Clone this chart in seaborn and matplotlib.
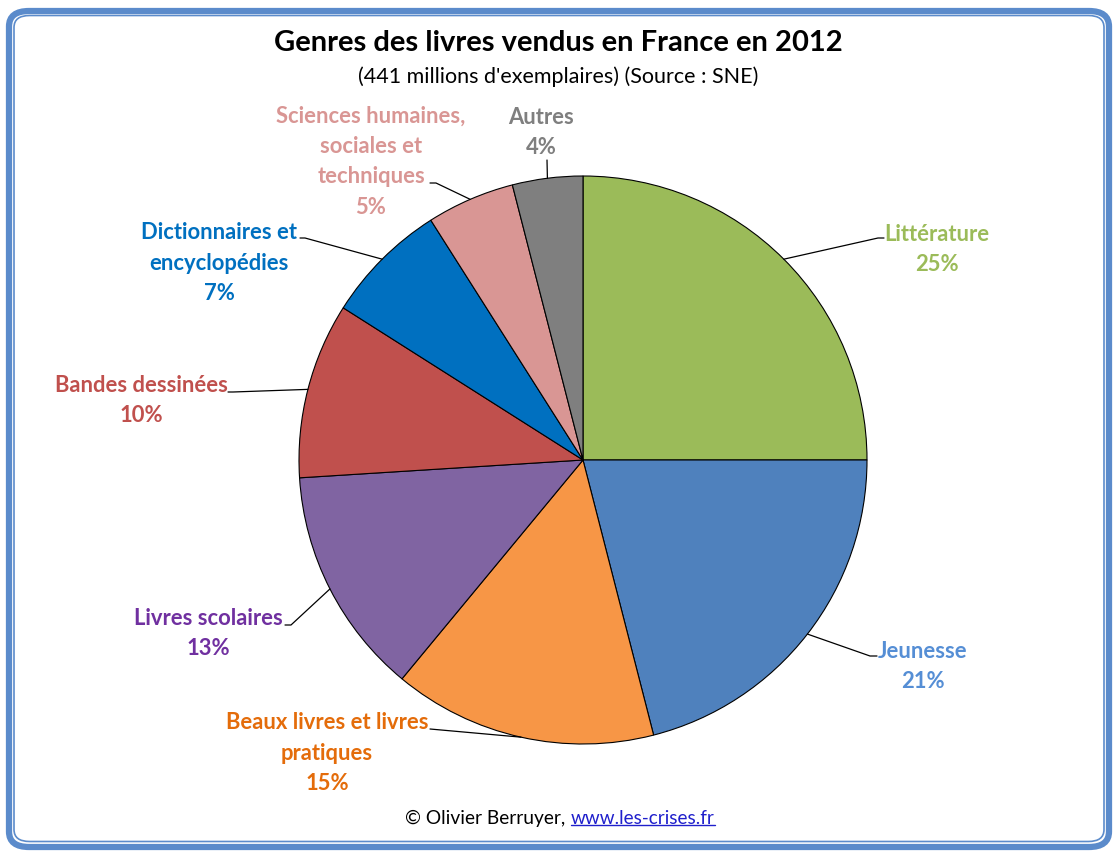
import numpy as np
import matplotlib
matplotlib.use("Agg")
import matplotlib.pyplot as plt
from matplotlib.patches import FancyBboxPatch
import seaborn as sns

# ---------------- data ----------------
categories = ["Littérature", "Jeunesse", "Beaux livres et livres\npratiques",
              "Livres scolaires", "Bandes dessinées", "Dictionnaires et\nencyclopédies",
              "Sciences humaines,\nsociales et\ntechniques", "Autres"]
values = [25, 21, 15, 13, 10, 7, 5, 4]
slice_colors = ["#9BBB59", "#4F81BD", "#F79646", "#8064A2",
                "#C0504D", "#0070C0", "#D99694", "#7F7F7F"]
label_colors = ["#9BBB59", "#558ED5", "#E46C0A", "#7030A0",
                "#C0504D", "#0070C0", "#D99694", "#7F7F7F"]
title = "Genres des livres vendus en France en 2012"
subtitle = "(441 millions d'exemplaires) (Source : SNE)"
credit = "© Olivier Berruyer,"
link = "www.les-crises.fr"

sns.set_theme(style="white")
plt.rcParams["font.family"] = ["Lato", "DejaVu Sans"]

W, H = 1118, 855
fig = plt.figure(figsize=(W / 100, H / 100), dpi=100)
fig.patch.set_facecolor("white")

# pie geometry (pixels)
CX, CY, R = 583, 460, 284
ax = fig.add_axes([(CX - R) / W, (H - CY - R) / H, 2 * R / W, 2 * R / H])
ax.axis("off")

wedges, _ = ax.pie(values, colors=slice_colors, startangle=90, counterclock=False,
                   radius=1, wedgeprops=dict(edgecolor="black", linewidth=0.8))
ax.set_xlim(-1, 1)
ax.set_ylim(-1, 1)
ax.set_aspect("equal")

def d(px, py):
    return (px - CX) / R, (CY - py) / R

# label block centres and leader elbow (pixels)
label_pos = [(937, 249.5), (923, 666.5), (327, 753), (208, 633.5),
             (141, 400.5), (219, 263), (371, 161.5), (541, 132.5)]
elbows = [((884, 238), (878, 238)), ((877, 656), (870, 656)),
          ((430, 729), (430, 729)), ((285, 625), (291, 625)),
          ((228, 392), (233, 392)), ((300, 238), (305, 238)),
          ((430, 183), (436, 183)), ((547, 160), (547, 160))]

for i, w in enumerate(wedges):
    mid = np.deg2rad((w.theta1 + w.theta2) / 2)
    ex, ey = np.cos(mid), np.sin(mid)
    (ax0, ay0), (ax1, ay1) = elbows[i]
    p0 = d(ax0, ay0)
    p1 = d(ax1, ay1)
    ax.plot([p0[0], p1[0], ex], [p0[1], p1[1], ey], color="black",
            linewidth=0.9, clip_on=False, zorder=1)
    lx, ly = d(*label_pos[i])
    ax.text(lx, ly, f"{categories[i]}\n{values[i]}%", ha="center", va="center",
            color=label_colors[i], fontsize=15.8, fontweight="bold",
            linespacing=1.55, clip_on=False)

# titles
fig.text(558 / W, 1 - 43 / H, title, ha="center", va="center",
         fontsize=21, fontweight="bold", color="black")
fig.text(558 / W, 1 - 77 / H, subtitle, ha="center", va="center",
         fontsize=15.5, color="black")

# credit
t1 = fig.text(565 / W, 1 - 818 / H, credit, ha="right", va="center",
              fontsize=13.8, color="black")
t2 = fig.text(571 / W, 1 - 818 / H, link, ha="left", va="center",
              fontsize=13.6, color="#1F1FCC")
fig.canvas.draw()
bb = t2.get_window_extent()
uy = (bb.y0 + 2) / H
fig.add_artist(plt.Line2D([bb.x0 / W, bb.x1 / W], [uy, uy], color="#1F1FCC",
                          linewidth=1, transform=fig.transFigure))

# frame
outer = FancyBboxPatch((9 / W, 8 / H), (W - 18) / W, (H - 19) / H,
                       boxstyle="round,pad=0,rounding_size=0.018",
                       transform=fig.transFigure, facecolor="none",
                       edgecolor="#5B8BCB", linewidth=4.5)
inner = FancyBboxPatch((14 / W, 13.5 / H), (W - 28) / W, (H - 29) / H,
                       boxstyle="round,pad=0,rounding_size=0.014",
                       transform=fig.transFigure, facecolor="none",
                       edgecolor="#5B8BCB", linewidth=1.2)
fig.add_artist(outer)
fig.add_artist(inner)

fig.savefig("out.png", dpi=100, facecolor="white")
